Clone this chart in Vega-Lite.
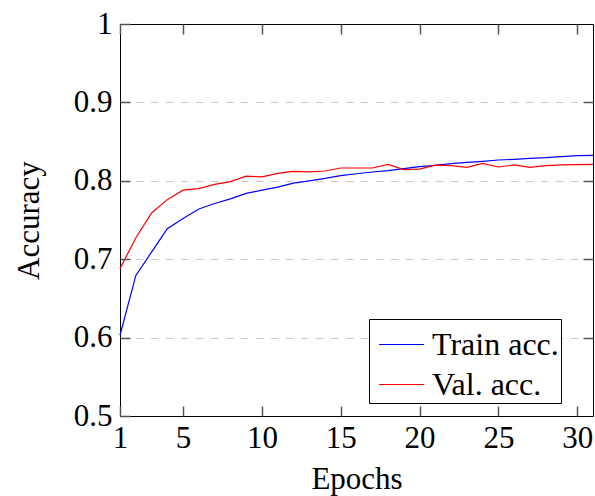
{
  "$schema": "https://vega.github.io/schema/vega-lite/v6.json",
  "width": 473,
  "height": 392,
  "autosize": {"type": "none"},
  "padding": {"left": 120, "top": 24, "right": 2, "bottom": 80},
  "background": "white",
  "config": {
    "font": "Liberation Serif",
    "view": {"stroke": "black", "strokeWidth": 1}
  },
  "data": {
    "values": [
      {"epoch": 1, "series": "Train acc.", "acc": 0.603},
      {"epoch": 2, "series": "Train acc.", "acc": 0.679},
      {"epoch": 3, "series": "Train acc.", "acc": 0.709},
      {"epoch": 4, "series": "Train acc.", "acc": 0.739},
      {"epoch": 5, "series": "Train acc.", "acc": 0.752},
      {"epoch": 6, "series": "Train acc.", "acc": 0.764},
      {"epoch": 7, "series": "Train acc.", "acc": 0.771},
      {"epoch": 8, "series": "Train acc.", "acc": 0.777},
      {"epoch": 9, "series": "Train acc.", "acc": 0.784},
      {"epoch": 10, "series": "Train acc.", "acc": 0.788},
      {"epoch": 11, "series": "Train acc.", "acc": 0.792},
      {"epoch": 12, "series": "Train acc.", "acc": 0.797},
      {"epoch": 13, "series": "Train acc.", "acc": 0.800},
      {"epoch": 14, "series": "Train acc.", "acc": 0.803},
      {"epoch": 15, "series": "Train acc.", "acc": 0.8065},
      {"epoch": 16, "series": "Train acc.", "acc": 0.809},
      {"epoch": 17, "series": "Train acc.", "acc": 0.8112},
      {"epoch": 18, "series": "Train acc.", "acc": 0.8129},
      {"epoch": 19, "series": "Train acc.", "acc": 0.8155},
      {"epoch": 20, "series": "Train acc.", "acc": 0.818},
      {"epoch": 21, "series": "Train acc.", "acc": 0.8197},
      {"epoch": 22, "series": "Train acc.", "acc": 0.8218},
      {"epoch": 23, "series": "Train acc.", "acc": 0.8235},
      {"epoch": 24, "series": "Train acc.", "acc": 0.8248},
      {"epoch": 25, "series": "Train acc.", "acc": 0.8265},
      {"epoch": 26, "series": "Train acc.", "acc": 0.8274},
      {"epoch": 27, "series": "Train acc.", "acc": 0.8287},
      {"epoch": 28, "series": "Train acc.", "acc": 0.8295},
      {"epoch": 29, "series": "Train acc.", "acc": 0.8308},
      {"epoch": 30, "series": "Train acc.", "acc": 0.832},
      {"epoch": 31, "series": "Train acc.", "acc": 0.8325},
      {"epoch": 1, "series": "Val. acc.", "acc": 0.688},
      {"epoch": 2, "series": "Val. acc.", "acc": 0.727},
      {"epoch": 3, "series": "Val. acc.", "acc": 0.759},
      {"epoch": 4, "series": "Val. acc.", "acc": 0.776},
      {"epoch": 5, "series": "Val. acc.", "acc": 0.788},
      {"epoch": 6, "series": "Val. acc.", "acc": 0.790},
      {"epoch": 7, "series": "Val. acc.", "acc": 0.7955},
      {"epoch": 8, "series": "Val. acc.", "acc": 0.799},
      {"epoch": 9, "series": "Val. acc.", "acc": 0.806},
      {"epoch": 10, "series": "Val. acc.", "acc": 0.805},
      {"epoch": 11, "series": "Val. acc.", "acc": 0.8095},
      {"epoch": 12, "series": "Val. acc.", "acc": 0.812},
      {"epoch": 13, "series": "Val. acc.", "acc": 0.8115},
      {"epoch": 14, "series": "Val. acc.", "acc": 0.8125},
      {"epoch": 15, "series": "Val. acc.", "acc": 0.8163},
      {"epoch": 16, "series": "Val. acc.", "acc": 0.8163},
      {"epoch": 17, "series": "Val. acc.", "acc": 0.8163},
      {"epoch": 18, "series": "Val. acc.", "acc": 0.821},
      {"epoch": 19, "series": "Val. acc.", "acc": 0.8143},
      {"epoch": 20, "series": "Val. acc.", "acc": 0.815},
      {"epoch": 21, "series": "Val. acc.", "acc": 0.820},
      {"epoch": 22, "series": "Val. acc.", "acc": 0.8193},
      {"epoch": 23, "series": "Val. acc.", "acc": 0.8172},
      {"epoch": 24, "series": "Val. acc.", "acc": 0.8223},
      {"epoch": 25, "series": "Val. acc.", "acc": 0.8176},
      {"epoch": 26, "series": "Val. acc.", "acc": 0.8202},
      {"epoch": 27, "series": "Val. acc.", "acc": 0.8172},
      {"epoch": 28, "series": "Val. acc.", "acc": 0.8193},
      {"epoch": 29, "series": "Val. acc.", "acc": 0.8202},
      {"epoch": 30, "series": "Val. acc.", "acc": 0.8206},
      {"epoch": 31, "series": "Val. acc.", "acc": 0.821}
    ]
  },
  "encoding": {
    "x": {"field": "epoch", "type": "quantitative", "scale": {"domain": [1, 31], "nice": false, "zero": false}},
    "y": {"field": "acc", "type": "quantitative", "scale": {"domain": [0.5, 1], "nice": false, "zero": false}},
    "color": {
      "field": "series", "type": "nominal",
      "scale": {"domain": ["Train acc.", "Val. acc."], "range": ["#0000ff", "#ff0000"]},
      "legend": {
        "title": null, "orient": "none", "legendX": 249, "legendY": 295,
        "symbolType": "stroke", "symbolSize": 2025, "symbolStrokeWidth": 1.2, "symbolOffset": 7,
        "labelFont": "Liberation Serif", "labelFontSize": 32, "labelColor": "black",
        "labelOffset": 7, "padding": 2, "rowPadding": 0,
        "strokeColor": "black", "fillColor": "white", "cornerRadius": 0, "zindex": 2
      }
    }
  },
  "layer": [
    {
      "transform": [{"filter": "datum.series === 'Train acc.'"}],
      "mark": {"type": "line", "strokeWidth": 1.2},
      "encoding": {
        "x": {"field": "epoch", "type": "quantitative", "title": "Epochs",
          "axis": {"orient": "bottom", "values": [1, 5, 10, 15, 20, 25, 30], "zindex": 1, "offset": -10,
            "domain": false, "grid": false, "ticks": true, "tickSize": 10, "tickColor": "#555555", "tickWidth": 1.5,
            "labelFont": "Liberation Serif", "labelFontSize": 31, "labelColor": "black", "labelPadding": 7,
            "labelFlush": false, "labelOverlap": false,
            "titleFont": "Liberation Serif", "titleFontSize": 31, "titleFontWeight": "normal", "titleColor": "black", "titlePadding": 11}},
        "y": {"field": "acc", "type": "quantitative", "title": "Accuracy",
          "axis": {"orient": "left", "values": [0.5, 0.6, 0.7, 0.8, 0.9, 1], "format": ".1~f", "zindex": 1, "offset": -10,
            "domain": false, "grid": false, "ticks": true, "tickSize": 10, "tickColor": "#555555", "tickWidth": 1.5,
            "labelFont": "Liberation Serif", "labelFontSize": 31, "labelColor": "black", "labelPadding": 8,
            "labelFlush": false, "labelOverlap": false,
            "titleFont": "Liberation Serif", "titleFontSize": 31, "titleFontWeight": "normal", "titleColor": "black", "titlePadding": 28}}
      }
    },
    {
      "transform": [{"filter": "datum.series === 'Val. acc.'"}],
      "mark": {"type": "line", "strokeWidth": 1.2},
      "encoding": {
        "x": {"field": "epoch", "type": "quantitative",
          "axis": {"orient": "top", "values": [1, 5, 10, 15, 20, 25, 30], "zindex": 1, "offset": -10,
            "domain": false, "grid": false, "labels": false, "title": null,
            "ticks": true, "tickSize": 10, "tickColor": "#555555", "tickWidth": 1.5}},
        "y": {"field": "acc", "type": "quantitative",
          "axis": {"orient": "right", "values": [0.6, 0.7, 0.8, 0.9], "zindex": 0, "offset": -10,
            "domain": false, "labels": false, "title": null,
            "grid": true, "gridColor": "#c8c8c8", "gridDash": [7.5, 7.5], "gridWidth": 1,
            "ticks": true, "tickSize": 10, "tickColor": "#555555", "tickWidth": 1.5}}
      }
    }
  ],
  "resolve": {"axis": {"x": "independent", "y": "independent"}}
}
